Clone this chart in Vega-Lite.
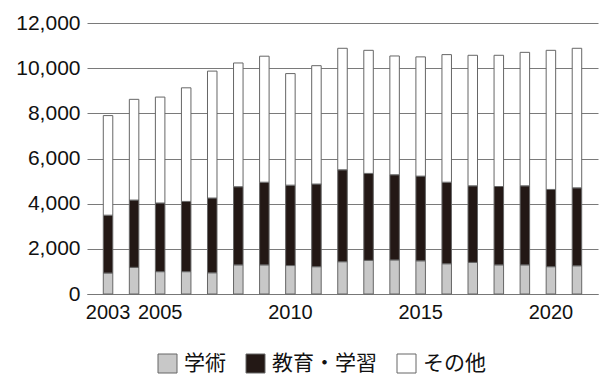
{
  "$schema": "https://vega.github.io/schema/vega-lite/v6.json",
  "width": 511,
  "height": 271,
  "autosize": "none",
  "padding": {"left": 87, "top": 23, "right": 8, "bottom": 86},
  "background": "white",
  "config": {"view": {"stroke": null}},
  "data": {"values": [
    {"year": "2003", "学術": 930, "教育・学習": 2560, "その他": 4410},
    {"year": "2004", "学術": 1180, "教育・学習": 2980, "その他": 4460},
    {"year": "2005", "学術": 990, "教育・学習": 3040, "その他": 4690},
    {"year": "2006", "学術": 990, "教育・学習": 3110, "その他": 5030},
    {"year": "2007", "学術": 940, "教育・学習": 3310, "その他": 5620},
    {"year": "2008", "学術": 1290, "教育・学習": 3460, "その他": 5480},
    {"year": "2009", "学術": 1290, "教育・学習": 3660, "その他": 5580},
    {"year": "2010", "学術": 1260, "教育・学習": 3560, "その他": 4940},
    {"year": "2011", "学術": 1210, "教育・学習": 3660, "その他": 5240},
    {"year": "2012", "学術": 1430, "教育・学習": 4070, "その他": 5380},
    {"year": "2013", "学術": 1490, "教育・学習": 3850, "その他": 5450},
    {"year": "2014", "学術": 1510, "教育・学習": 3770, "その他": 5260},
    {"year": "2015", "学術": 1470, "教育・学習": 3750, "その他": 5280},
    {"year": "2016", "学術": 1340, "教育・学習": 3610, "その他": 5650},
    {"year": "2017", "学術": 1400, "教育・学習": 3390, "その他": 5780},
    {"year": "2018", "学術": 1290, "教育・学習": 3470, "その他": 5810},
    {"year": "2019", "学術": 1290, "教育・学習": 3500, "その他": 5910},
    {"year": "2020", "学術": 1210, "教育・学習": 3420, "その他": 6160},
    {"year": "2021", "学術": 1250, "教育・学習": 3450, "その他": 6180}
  ]},
  "transform": [{"fold": ["学術", "教育・学習", "その他"], "as": ["cat", "value"]}],
  "mark": {"type": "bar", "stroke": "#666666", "strokeWidth": 1},
  "encoding": {
    "x": {
      "field": "year", "type": "ordinal",
      "scale": {"paddingInner": 0.635, "paddingOuter": 0.625},
      "axis": {
        "title": null, "labelAngle": 0, "ticks": false, "domain": true,
        "domainColor": "#777777", "domainWidth": 1,
        "labelExpr": "indexof(['2003','2005','2010','2015','2020'], datum.value) >= 0 ? datum.value : ''",
        "labelFont": "Liberation Sans", "labelFontSize": 20, "labelColor": "#111111",
        "labelPadding": 8, "labelOverlap": false, "labelDx": -4
      }
    },
    "y": {
      "field": "value", "type": "quantitative", "stack": "zero",
      "scale": {"domain": [0, 12000]},
      "axis": {
        "title": null, "values": [0, 2000, 4000, 6000, 8000, 10000, 12000],
        "format": ",d", "ticks": false, "domain": false, "grid": true,
        "gridColor": "#7a7a7a", "gridWidth": 1,
        "labelFont": "Liberation Sans", "labelFontSize": 21, "labelColor": "#111111",
        "labelPadding": 7, "labelDy": -4
      }
    },
    "color": {
      "field": "cat", "type": "nominal",
      "sort": ["学術", "教育・学習", "その他"],
      "scale": {"domain": ["学術", "教育・学習", "その他"], "range": ["#c8c8c8", "#231815", "#ffffff"]},
      "legend": {
        "title": null, "orient": "none", "direction": "horizontal",
        "legendX": 70, "legendY": 330,
        "symbolType": "square", "symbolSize": 361, "symbolStrokeColor": "#666666", "symbolStrokeWidth": 1,
        "labelFont": "Noto Sans CJK JP", "labelFontSize": 21, "labelColor": "#111111",
        "columnPadding": 18, "labelOffset": 6
      }
    },
    "order": {"field": "cat_order"}
  }
}
